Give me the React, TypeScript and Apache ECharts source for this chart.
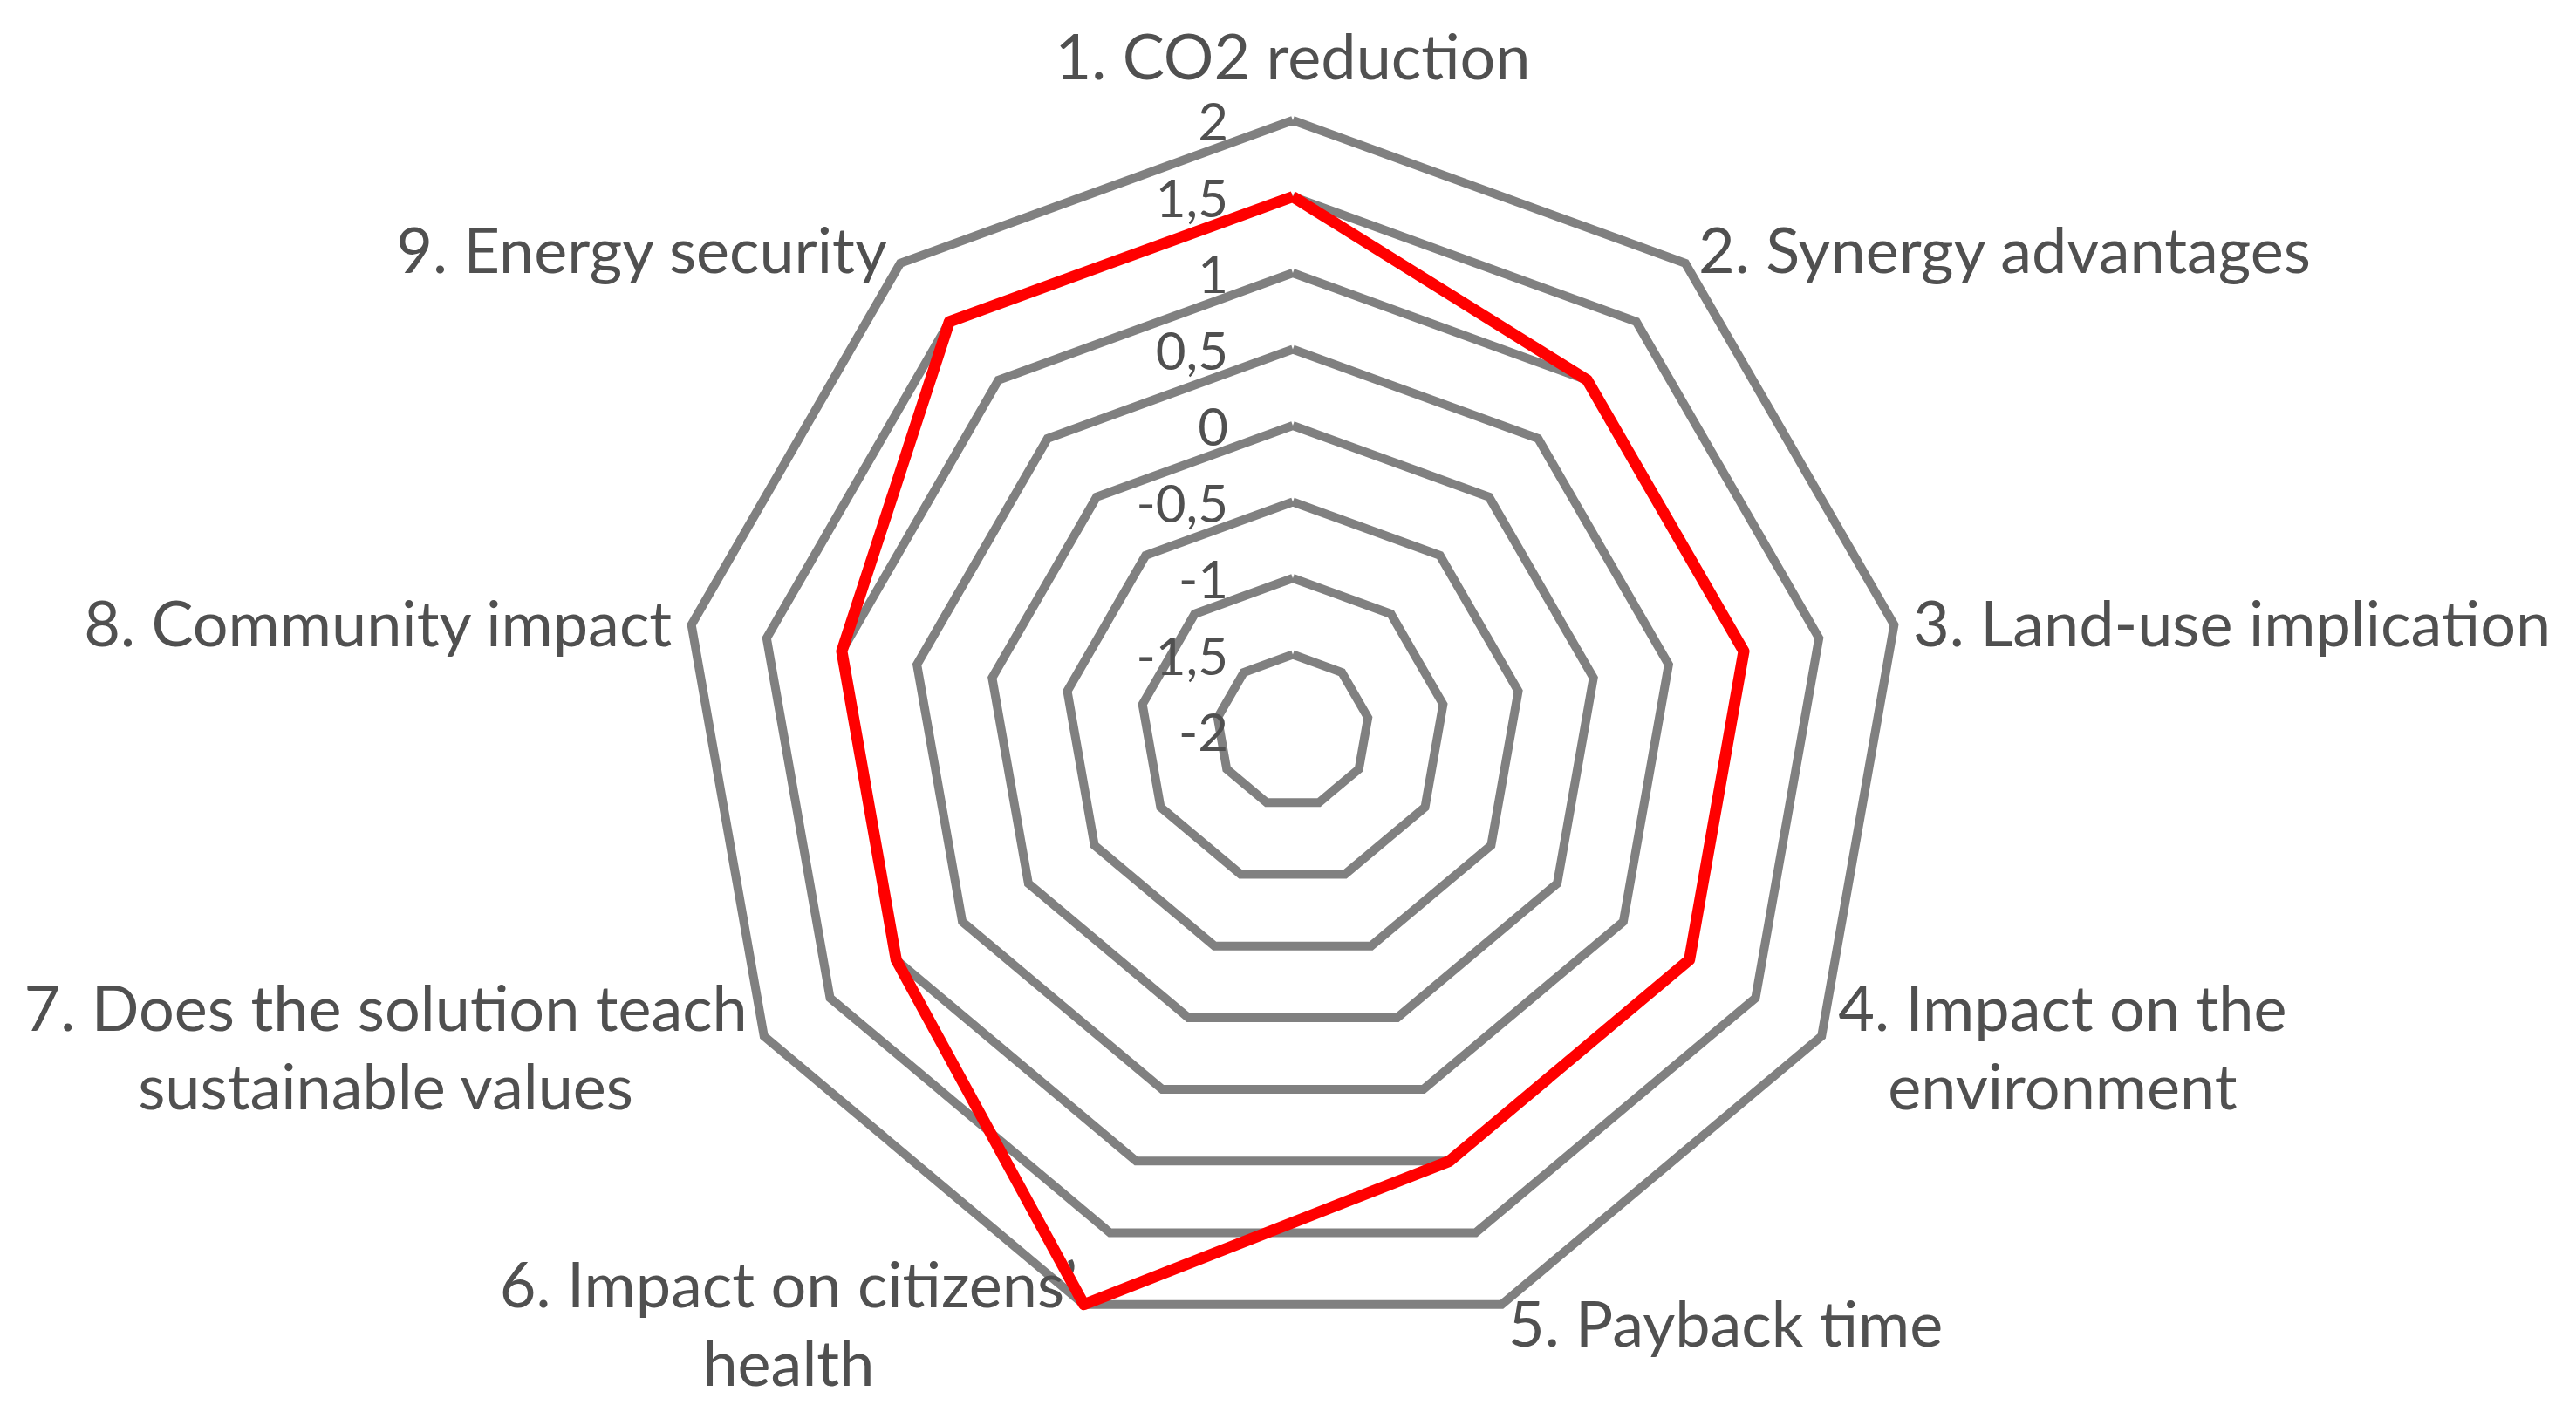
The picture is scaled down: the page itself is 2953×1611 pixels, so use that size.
import React, { useEffect, useRef } from "react";
import * as echarts from "echarts";

const categories: string[] = [
  "1. CO2 reduction",
  "2. Synergy advantages",
  "3. Land-use implication",
  "4. Impact on the\nenvironment",
  "5. Payback time",
  "6. Impact on citizens\u2019\nhealth",
  "7. Does the solution teach\nsustainable values",
  "8. Community impact",
  "9. Energy security",
];
const values: number[] = [1.5, 1, 1, 1, 1, 2, 1, 1, 1.5];
const axisMin = -2;
const axisMax = 2;
const splitCount = 8;

// ECharts lays radar indicators counter-clockwise; Excel draws them clockwise.
const order: number[] = [0, 8, 7, 6, 5, 4, 3, 2, 1];

export default function App() {
  const ref = useRef<HTMLDivElement>(null);
  useEffect(() => {
    if (!ref.current) return;
    const chart = echarts.init(ref.current, undefined, { renderer: "svg" });
    const textColor = "#505050";
    const font = "Lato, 'Open Sans', sans-serif";
    const indicator = order.map((i, k) => ({
      name: categories[i],
      min: axisMin,
      max: axisMax,
      axisLabel: k === 0 ? { show: true } : { show: false },
    }));
    chart.setOption({
      animation: false,
      backgroundColor: "#ffffff",
      radar: {
        center: [1482, 838],
        radius: 700,
        startAngle: 90,
        splitNumber: splitCount,
        shape: "polygon",
        nameGap: 22,
        axisName: {
          color: textColor,
          fontFamily: font,
          fontSize: 72,
          lineHeight: 90,
          formatter: (name: string) =>
            name
              .split("\n")
              .map((l) => `{c|${l}}`)
              .join("\n"),
          rich: {
            c: {
              align: "center",
              color: textColor,
              fontFamily: font,
              fontSize: 72,
              lineHeight: 90,
            },
          },
        },
        axisLine: { show: false },
        axisTick: { show: false },
        splitArea: { show: false },
        splitLine: {
          show: true,
          lineStyle: { color: "#808080", width: 10 },
        },
        axisLabel: {
          show: false,
          color: textColor,
          fontFamily: font,
          fontSize: 60,
          margin: 74,
          showMinLabel: true,
          showMaxLabel: true,
          formatter: (v: number) => String(v).replace(".", ","),
        },
        indicator,
      },
      series: [
        {
          type: "radar",
          symbol: "none",
          lineStyle: { color: "#FF0000", width: 13 },
          data: [{ value: order.map((i) => values[i]), name: "score" }],
        },
      ],
    });
    return () => chart.dispose();
  }, []);
  return (
    <div
      ref={ref}
      style={{ position: "fixed", left: 0, top: 0, width: 2953, height: 1611, background: "#fff" }}
    />
  );
}
